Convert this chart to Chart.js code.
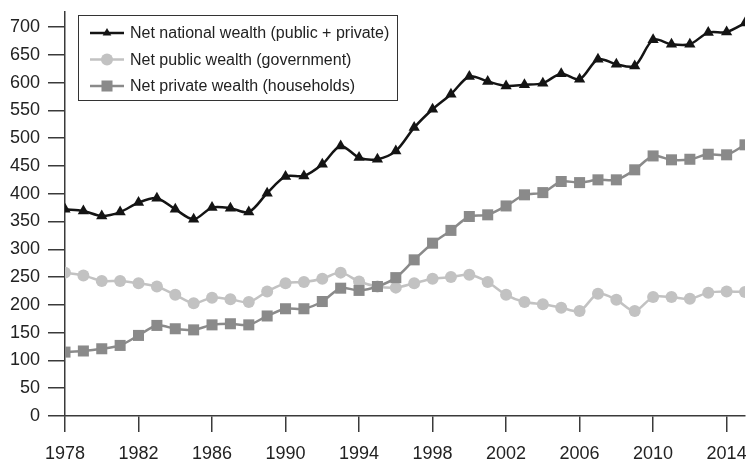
<!DOCTYPE html>
<html lang="en">
<head>
  <meta charset="UTF-8">
  <title>Net wealth, 1978–2015</title>
  <style>
    html, body { margin: 0; padding: 0; background: #fff; overflow: hidden; }
    .wrap { width: 746px; height: 463px; position: relative; }
    canvas { display: block; }
  </style>
</head>
<body>
  <div class="wrap"><canvas id="wealthChart"></canvas></div>
  <script src="https://cdn.jsdelivr.net/npm/chart.js"></script>
  <script>
    // years and series (% of national income)
    const years = [1978, 1979, 1980, 1981, 1982, 1983, 1984, 1985, 1986, 1987,
      1988, 1989, 1990, 1991, 1992, 1993, 1994, 1995, 1996, 1997,
      1998, 1999, 2000, 2001, 2002, 2003, 2004, 2005, 2006, 2007,
      2008, 2009, 2010, 2011, 2012, 2013, 2014, 2015];
    const nationalWealth = [372, 369, 360, 367, 384, 392, 372, 354, 375, 374,
      367, 401, 431, 432, 453, 486, 465, 462, 477, 519,
      552, 579, 611, 602, 594, 596, 599, 616, 606, 642,
      633, 630, 677, 669, 669, 690, 691, 707];
    const publicWealth = [258, 253, 243, 243, 239, 233, 218, 203, 213, 210,
      205, 224, 239, 241, 247, 258, 242, 233, 231, 239,
      247, 250, 254, 241, 218, 205, 201, 195, 189, 220,
      209, 189, 214, 214, 211, 222, 224, 223];
    const privateWealth = [115, 117, 121, 127, 145, 163, 157, 155, 164, 166,
      164, 180, 193, 193, 206, 230, 226, 233, 249, 281,
      311, 334, 359, 362, 378, 398, 402, 422, 420, 425,
      425, 443, 468, 461, 462, 471, 470, 488];
    const xTicks = [1978, 1982, 1986, 1990, 1994, 1998, 2002, 2006, 2010, 2014];
    const yTicks = [0, 50, 100, 150, 200, 250, 300, 350, 400, 450, 500, 550, 600, 650, 700];
    const seriesNames = [
      'Net national wealth (public + private)',
      'Net public wealth (government)',
      'Net private wealth (households)'
    ];

    const FONT = "'Liberation Sans', Arial, Helvetica, sans-serif";
    const AXIS = '#3a3a3a';
    const colNational = '#141414';
    const colPublic = '#c2c2c2';
    const colPrivate = '#8a8a8a';

    const toPoints = arr => arr.map((v, i) => ({ x: years[i], y: v }));

    const styles = [
      { color: colNational, pointStyle: 'triangle', radius: 6.5 },
      { color: colPublic, pointStyle: 'circle', radius: 6 },
      { color: colPrivate, pointStyle: 'rect', radius: 7.8 }
    ];

    function makeSet(idx, values, order) {
      const s = styles[idx];
      return {
        label: seriesNames[idx],
        data: toPoints(values),
        borderColor: s.color,
        backgroundColor: s.color,
        borderWidth: 2.5,
        pointStyle: s.pointStyle,
        pointRadius: s.radius,
        pointBorderWidth: 0,
        pointHoverRadius: s.radius,
        tension: 0.3,
        order: order
      };
    }

    // legend drawn inside the plot, top left, with a thin frame
    const boxLegend = {
      id: 'boxLegend',
      afterDraw(chart) {
        const ctx = chart.ctx;
        const left = 78, top = 15, w = 319, h = 85;
        ctx.save();
        ctx.fillStyle = '#fff';
        ctx.fillRect(left, top, w, h);
        ctx.strokeStyle = '#333';
        ctx.lineWidth = 1;
        ctx.strokeRect(left + 0.5, top + 0.5, w, h);
        const rows = [33, 59.5, 86];
        ctx.font = '16px ' + FONT;
        ctx.textBaseline = 'middle';
        seriesNames.forEach((name, i) => {
          const s = styles[i];
          const y = rows[i];
          ctx.strokeStyle = s.color;
          ctx.lineWidth = 2.5;
          ctx.beginPath();
          ctx.moveTo(90, y);
          ctx.lineTo(124, y);
          ctx.stroke();
          ctx.fillStyle = s.color;
          Chart.helpers.drawPoint(ctx, {
            pointStyle: s.pointStyle,
            radius: i === 0 ? 5 : s.radius,
            rotation: 0,
            borderWidth: 0
          }, 107, y);
          ctx.fillStyle = '#222';
          ctx.fillText(name, 130, y + 1);
        });
        ctx.restore();
      }
    };

    new Chart(document.getElementById('wealthChart'), {
      type: 'line',
      data: {
        datasets: [
          makeSet(0, nationalWealth, 0),
          makeSet(1, publicWealth, 2),
          makeSet(2, privateWealth, 1)
        ]
      },
      options: {
        responsive: true,
        maintainAspectRatio: false,
        animation: false,
        layout: { autoPadding: false, padding: { top: 12, right: 1, left: 0, bottom: 0 } },
        plugins: {
          legend: { display: false },
          tooltip: { enabled: false }
        },
        scales: {
          x: {
            type: 'linear',
            min: 1978,
            max: 2015,
            afterBuildTicks: axis => { axis.ticks = xTicks.map(v => ({ value: v })); },
            afterFit: axis => {
              axis.height = 47;
              axis.paddingLeft = 0;
              axis.paddingRight = 0;
            },
            border: { display: true, color: AXIS, width: 1.5 },
            grid: { drawOnChartArea: false, drawTicks: true, tickLength: 16, color: AXIS, lineWidth: 1.5 },
            ticks: {
              color: '#222',
              font: { family: FONT, size: 18 },
              padding: 11,
              maxRotation: 0,
              autoSkip: false,
              callback: v => String(v)
            }
          },
          y: {
            min: 0,
            max: 727,
            afterBuildTicks: axis => { axis.ticks = yTicks.map(v => ({ value: v })); },
            afterFit: axis => {
              axis.width = 65;
              axis.paddingTop = 0;
              axis.paddingBottom = 0;
            },
            border: { display: true, color: AXIS, width: 1.5 },
            grid: { drawOnChartArea: false, drawTicks: true, tickLength: 17, color: AXIS, lineWidth: 1.5 },
            ticks: {
              color: '#222',
              font: { family: FONT, size: 18 },
              padding: 8,
              autoSkip: false
            }
          }
        }
      },
      plugins: [boxLegend]
    });
  </script>
</body>
</html>
